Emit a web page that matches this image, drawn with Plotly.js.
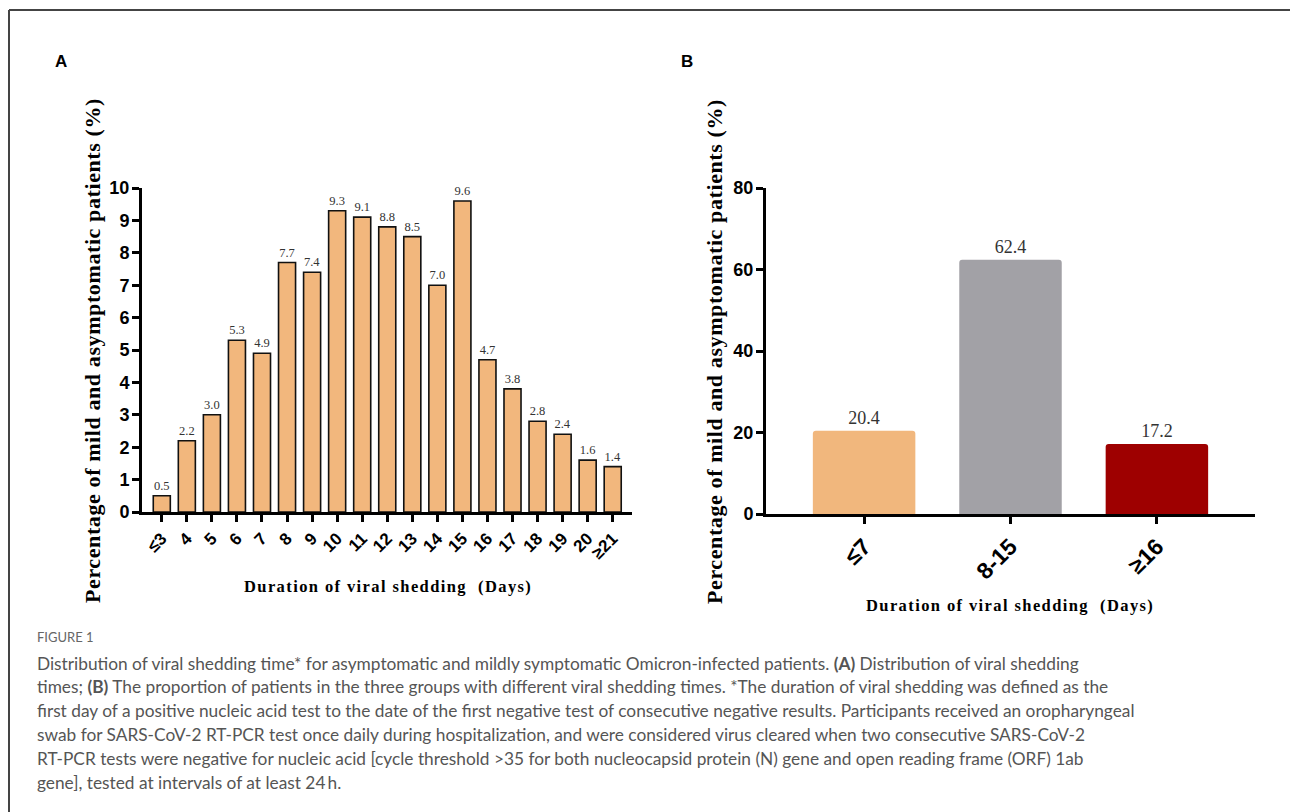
<!DOCTYPE html>
<html>
<head>
<meta charset="utf-8">
<script src="https://cdn.plot.ly/plotly-3.0.1.min.js"></script>
<style>
html,body{margin:0;padding:0;background:#fff;}
#chart{width:1290px;height:812px;}
text[data-unformatted^="<b>Duration"]{letter-spacing:1.4px;}
text[data-unformatted^="<b>Percentage"]{letter-spacing:0.6px;}
.subplot.x2y2 .bartext text{letter-spacing:1px;}
.subplot.xy .bartext text{letter-spacing:0.3px;}
</style>
</head>
<body>
<div id="chart"></div>
<script>
// ---- Data ----
const categoriesA = ['≤3','4','5','6','7','8','9','10','11','12','13','14','15','16','17','18','19','20','≥21'];
const valuesA = [0.5,2.2,3.0,5.3,4.9,7.7,7.4,9.3,9.1,8.8,8.5,7.0,9.6,4.7,3.8,2.8,2.4,1.6,1.4];
const categoriesB = ['≤7','8-15','≥16'];
const valuesB = [20.4,62.4,17.2];
const colorsB = ['#F1B77D','#A2A1A6','#9E0000'];
const yTicksA = [0,1,2,3,4,5,6,7,8,9,10];
const yTicksB = [0,20,40,60,80];
const yTitle = 'Percentage of mild and asymptomatic patients (%)';
const xTitle = 'Duration of viral shedding  (Days)';
const captionHead = 'FIGURE 1';
const captionLines = [
 'Distribution of viral shedding time* for asymptomatic and mildly symptomatic Omicron-infected patients. <b>(A)</b> Distribution of viral shedding',
 'times; <b>(B)</b> The proportion of patients in the three groups with different viral shedding times. *The duration of viral shedding was defined as the',
 'first day of a positive nucleic acid test to the date of the first negative test of consecutive negative results. Participants received an oropharyngeal',
 'swab for SARS-CoV-2 RT-PCR test once daily during hospitalization, and were considered virus cleared when two consecutive SARS-CoV-2',
 'RT-PCR tests were negative for nucleic acid [cycle threshold >35 for both nucleocapsid protein (N) gene and open reading frame (ORF) 1ab',
 'gene], tested at intervals of at least 24\u2009h.'
];

// ---- Helpers ----
const W = 1290, H = 812;
const px = x => x / W;
const py = y => 1 - y / H;
const sans = 'Liberation Sans, Arial, sans-serif';
const serif = 'Liberation Serif, Times New Roman, serif';

const traceA = {
  type: 'bar', x: categoriesA, y: valuesA, xaxis: 'x', yaxis: 'y',
  width: 0.68,
  marker: {color: '#F2B77D', line: {color: '#111', width: 1.6}},
  text: valuesA.map(v => v.toFixed(1)), textposition: 'outside',
  textfont: {family: serif, size: 12.5, color: '#333'},
  constraintext: 'none', cliponaxis: false, hoverinfo: 'none'
};
const traceB = {
  type: 'bar', x: categoriesB, y: valuesB, xaxis: 'x2', yaxis: 'y2',
  width: 0.70,
  marker: {color: colorsB, line: {width: 0}, cornerradius: 3},
  text: valuesB.map(v => v.toFixed(1)), textposition: 'outside',
  textfont: {family: serif, size: 18, color: '#333'},
  constraintext: 'none', cliponaxis: false, hoverinfo: 'none'
};

const axisCommon = {
  showline: true, linecolor: '#000', linewidth: 3,
  ticks: 'outside', ticklen: 7, tickwidth: 3, tickcolor: '#000',
  showgrid: false, zeroline: false, fixedrange: true
};

const layout = {
  width: W, height: H,
  margin: {l: 0, r: 0, t: 0, b: 0},
  paper_bgcolor: '#fff', plot_bgcolor: 'rgba(0,0,0,0)',
  showlegend: false, bargap: 0.3,
  xaxis: Object.assign({}, axisCommon, {
    domain: [px(142), px(632)], anchor: 'y', type: 'category',
    range: [-0.79, 18.77], tickangle: -45,
    tickfont: {family: sans, size: 17, color: '#000', weight: 'bold'}
  }),
  yaxis: Object.assign({}, axisCommon, {
    domain: [py(512), py(188)], anchor: 'x',
    range: [0, 10], tickvals: yTicksA, ticklabelstandoff: -1,
    tickfont: {family: sans, size: 18, color: '#000', weight: 'bold'}
  }),
  xaxis2: Object.assign({}, axisCommon, {
    domain: [px(766), px(1255)], anchor: 'y2', type: 'category',
    range: [-0.67, 2.67], tickangle: -45,
    tickfont: {family: sans, size: 23, color: '#000', weight: 'bold'}
  }),
  yaxis2: Object.assign({}, axisCommon, {
    domain: [py(514), py(188)], anchor: 'x2',
    range: [0, 80], tickvals: yTicksB, ticklabelstandoff: -1,
    tickfont: {family: sans, size: 18, color: '#000', weight: 'bold'}
  }),
  shapes: [
    {type: 'line', xref: 'paper', yref: 'paper', x0: px(9), x1: px(9), y0: py(812), y1: py(10), line: {color: '#444', width: 2}},
    {type: 'line', xref: 'paper', yref: 'paper', x0: px(9), x1: px(1290), y0: py(10), y1: py(10), line: {color: '#444', width: 2}}
  ],
  annotations: []
};

const ann = layout.annotations;
ann.push({text: '<b>A</b>', xref: 'paper', yref: 'paper', x: px(61), y: py(62), xanchor: 'center', yanchor: 'middle', showarrow: false, font: {family: sans, size: 17, color: '#000'}});
ann.push({text: '<b>B</b>', xref: 'paper', yref: 'paper', x: px(687), y: py(62), xanchor: 'center', yanchor: 'middle', showarrow: false, font: {family: sans, size: 17, color: '#000'}});
ann.push({text: '<b>' + yTitle + '</b>', xref: 'paper', yref: 'paper', x: px(92), y: py(351), xanchor: 'center', yanchor: 'middle', textangle: -90, showarrow: false, font: {family: serif, size: 22, color: '#000'}});
ann.push({text: '<b>' + yTitle + '</b>', xref: 'paper', yref: 'paper', x: px(714), y: py(352), xanchor: 'center', yanchor: 'middle', textangle: -90, showarrow: false, font: {family: serif, size: 22, color: '#000'}});
ann.push({text: '<b>' + xTitle + '</b>', xref: 'paper', yref: 'paper', x: px(388), y: py(586), xanchor: 'center', yanchor: 'middle', showarrow: false, font: {family: serif, size: 16.5, color: '#000'}});
ann.push({text: '<b>' + xTitle + '</b>', xref: 'paper', yref: 'paper', x: px(1010), y: py(605), xanchor: 'center', yanchor: 'middle', showarrow: false, font: {family: serif, size: 16.5, color: '#000'}});
ann.push({text: captionHead, xref: 'paper', yref: 'paper', x: px(35), y: py(637), xanchor: 'left', yanchor: 'middle', showarrow: false, font: {family: 'Lato, Open Sans, sans-serif', size: 13, color: '#666'}});
captionLines.forEach((t, i) => {
  ann.push({text: t, xref: 'paper', yref: 'paper', x: px(35), y: py(663 + 23.8 * i), xanchor: 'left', yanchor: 'middle', showarrow: false, font: {family: 'Lato, Open Sans, sans-serif', size: 17.3, color: '#555'}});
});

Plotly.newPlot('chart', [traceA, traceB], layout, {staticPlot: true, displayModeBar: false});
</script>
</body>
</html>
